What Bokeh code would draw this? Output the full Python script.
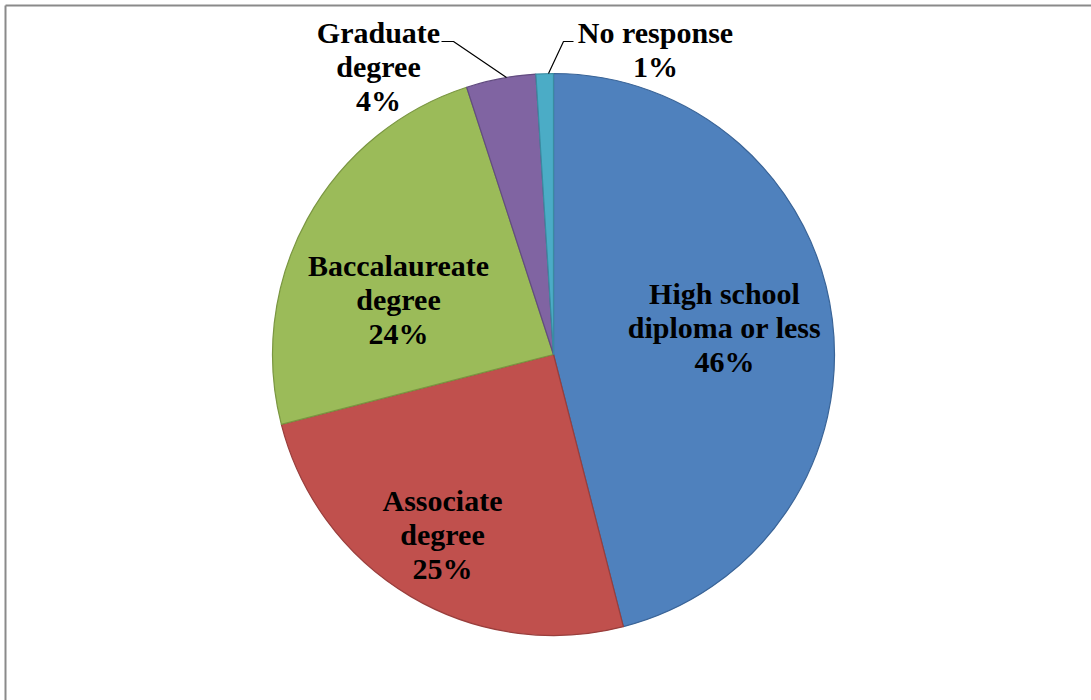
import numpy as np
from bokeh.plotting import figure
from bokeh.models import Range1d, ColumnDataSource
from bokeh.core.properties import value
from bokeh.embed import file_html
from bokeh.resources import INLINE

# Highest level of education (percent of respondents)
categories = ["High school\ndiploma or less", "Associate\ndegree", "Baccalaureate\ndegree",
              "Graduate\ndegree", "No response"]
percents = [46, 25, 24, 4, 1]
fill_colors = ["#4F81BD", "#C0504D", "#9BBB59", "#8064A2", "#4BACC6"]
edge_colors = ["#3A6497", "#993E3C", "#7A9641", "#624C80", "#3A8BA1"]

W, H = 1091, 700
p = figure(width=W, height=H, output_backend="svg", toolbar_location=None,
           x_axis_type=None, y_axis_type=None, min_border=0,
           x_range=Range1d(0, W), y_range=Range1d(0, H))
p.outline_line_color = None
p.grid.visible = False
p.background_fill_color = "white"
p.border_fill_color = "white"


def py(y):
    # screen-down pixel row -> data y
    return H - y


# chart frame (top and left edges)
p.segment(x0=[5, 5], y0=[py(5), py(5)], x1=[W, 5], y1=[py(5), 0],
          line_color="#8a8a8a", line_width=2)

# pie: clockwise from 12 o'clock
CX, CY, R = 553, py(354), 281
frac = np.array(percents, dtype=float) / sum(percents)
cum = np.concatenate([[0], np.cumsum(frac)])
ends = np.pi / 2 - 2 * np.pi * cum[:-1]
starts = np.pi / 2 - 2 * np.pi * cum[1:]
src = ColumnDataSource(dict(start=starts, end=ends, fill=fill_colors, edge=edge_colors))
p.wedge(x=CX, y=CY, radius=R, start_angle="start", end_angle="end", direction="anticlock",
        fill_color="fill", line_color="edge", line_width=1.2, source=src)

# leader lines for the two thin slices
p.line(x=[441, 453, 506], y=[py(41), py(41), py(77)], line_color="black", line_width=1.2)
p.line(x=[573, 563, 548], y=[py(41), py(41), py(73)], line_color="black", line_width=1.2)

# data labels: (centre x, first baseline) per slice
label_x = [724, 442, 398, 378, 655]
label_y0 = [293, 500, 265, 32, 32]
step = 34
xs, ys, txt = [], [], []
for name, v, lx, ly in zip(categories, percents, label_x, label_y0):
    lines = name.split("\n") + [f"{v}%"]
    for k, s in enumerate(lines):
        xs.append(lx)
        ys.append(py(ly + k * step))
        txt.append(s)
p.text(x=xs, y=ys, text=txt, text_font=value("Liberation Serif"), text_font_style="bold",
       text_font_size="30px", text_align="center", text_baseline="alphabetic", text_color="black")

open("out.html", "w").write(file_html(p, INLINE))
